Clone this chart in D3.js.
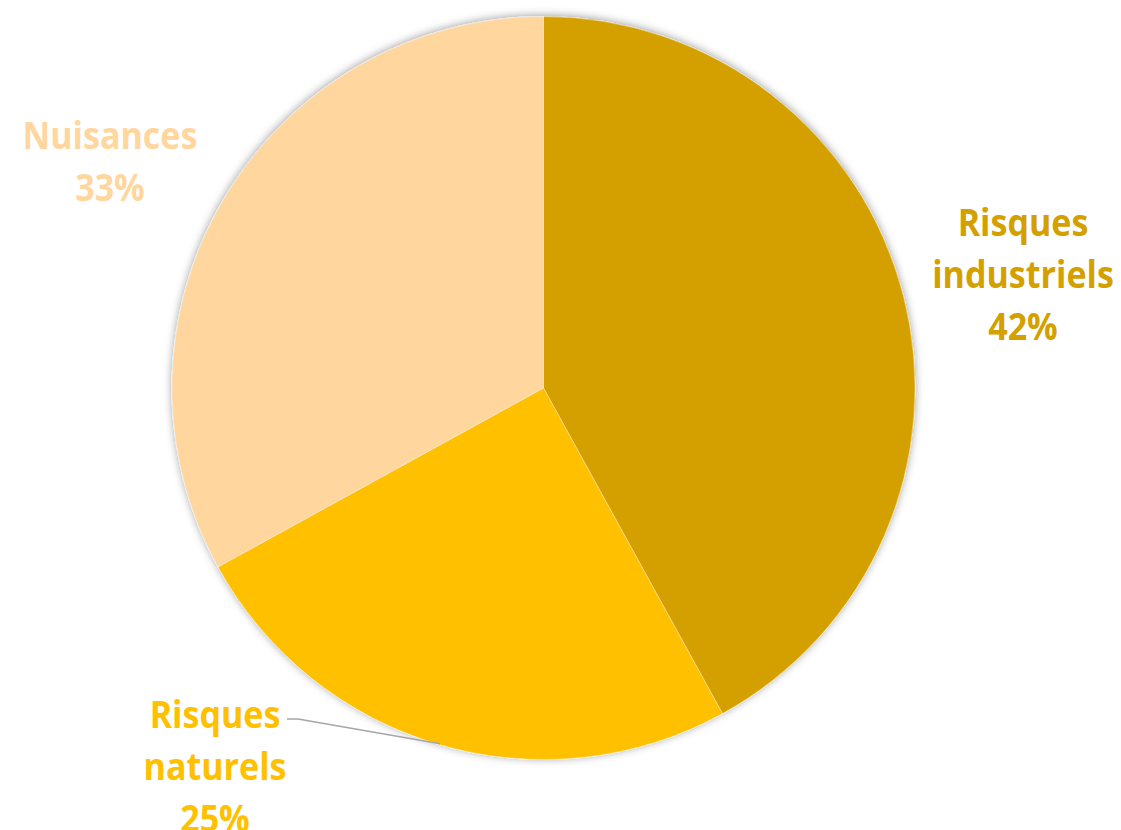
<!DOCTYPE html>
<html>
<head>
<meta charset="utf-8">
<script src="https://cdn.jsdelivr.net/npm/d3@7"></script>
<style>
  html, body { margin: 0; padding: 0; background: #ffffff; }
  svg { display: block; }
  text { font-family: "Open Sans", "Liberation Sans", sans-serif; font-weight: 700; }
</style>
</head>
<body>
<svg id="chart" width="1121" height="830"></svg>
<script>
// ---- data ----
const categories = ["Risques industriels", "Risques naturels", "Nuisances"];
const values = [42, 25, 33];
const labelLines = [["Risques", "industriels", "42%"], ["Risques", "naturels", "25%"], ["Nuisances", "33%"]];
const colors = ["#D4A000", "#FFC000", "#FFD79E"];

// ---- layout ----
const W = 1121, H = 830;
const cx = 543.5, cy = 388, R = 371.5;
const fontSize = 37, lineH = 52, squeeze = 0.92;
const labelPos = [ [1023, 221], [215, 713], [110, 134] ]; // center x, first line center y

const svg = d3.select("#chart");
const defs = svg.append("defs");
const f = defs.append("filter").attr("id", "shadow")
  .attr("x", "-10%").attr("y", "-10%").attr("width", "120%").attr("height", "120%");
f.append("feDropShadow").attr("dx", 0).attr("dy", -1).attr("stdDeviation", 4.5)
  .attr("flood-color", "#000").attr("flood-opacity", 0.38);

const pie = d3.pie().sort(null).value(d => d)(values);
const arc = d3.arc().innerRadius(0).outerRadius(R);

const g = svg.append("g").attr("transform", `translate(${cx},${cy})`);
g.append("g").attr("filter", "url(#shadow)")
  .selectAll("path").data(pie).join("path")
  .attr("d", arc)
  .attr("fill", (d, i) => colors[i])
  .attr("stroke", "rgba(255,255,255,0.35)")
  .attr("stroke-width", 1);

// leader line for "Risques naturels"
const nat = pie[1];
const mid = (nat.startAngle + nat.endAngle) / 2;
const tip = [cx + (R - 1) * Math.sin(mid), cy - (R - 1) * Math.cos(mid)];
svg.append("polyline")
  .attr("points", `287,719 298,719 ${tip[0]},${tip[1]}`)
  .attr("fill", "none").attr("stroke", "#A6A6A6").attr("stroke-width", 1.5);

// labels
labelLines.forEach((lines, i) => {
  const t = svg.append("g");
  lines.forEach((ln, j) => {
    const txt = t.append("text")
      .attr("x", labelPos[i][0])
      .attr("y", labelPos[i][1] + j * lineH)
      .attr("text-anchor", "middle")
      .attr("dominant-baseline", "central")
      .attr("font-size", fontSize)
      .attr("fill", colors[i])
      .text(ln);
    const w = txt.node().getComputedTextLength();
    txt.attr("textLength", w * squeeze).attr("lengthAdjust", "spacingAndGlyphs");
  });
});
</script>
</body>
</html>
